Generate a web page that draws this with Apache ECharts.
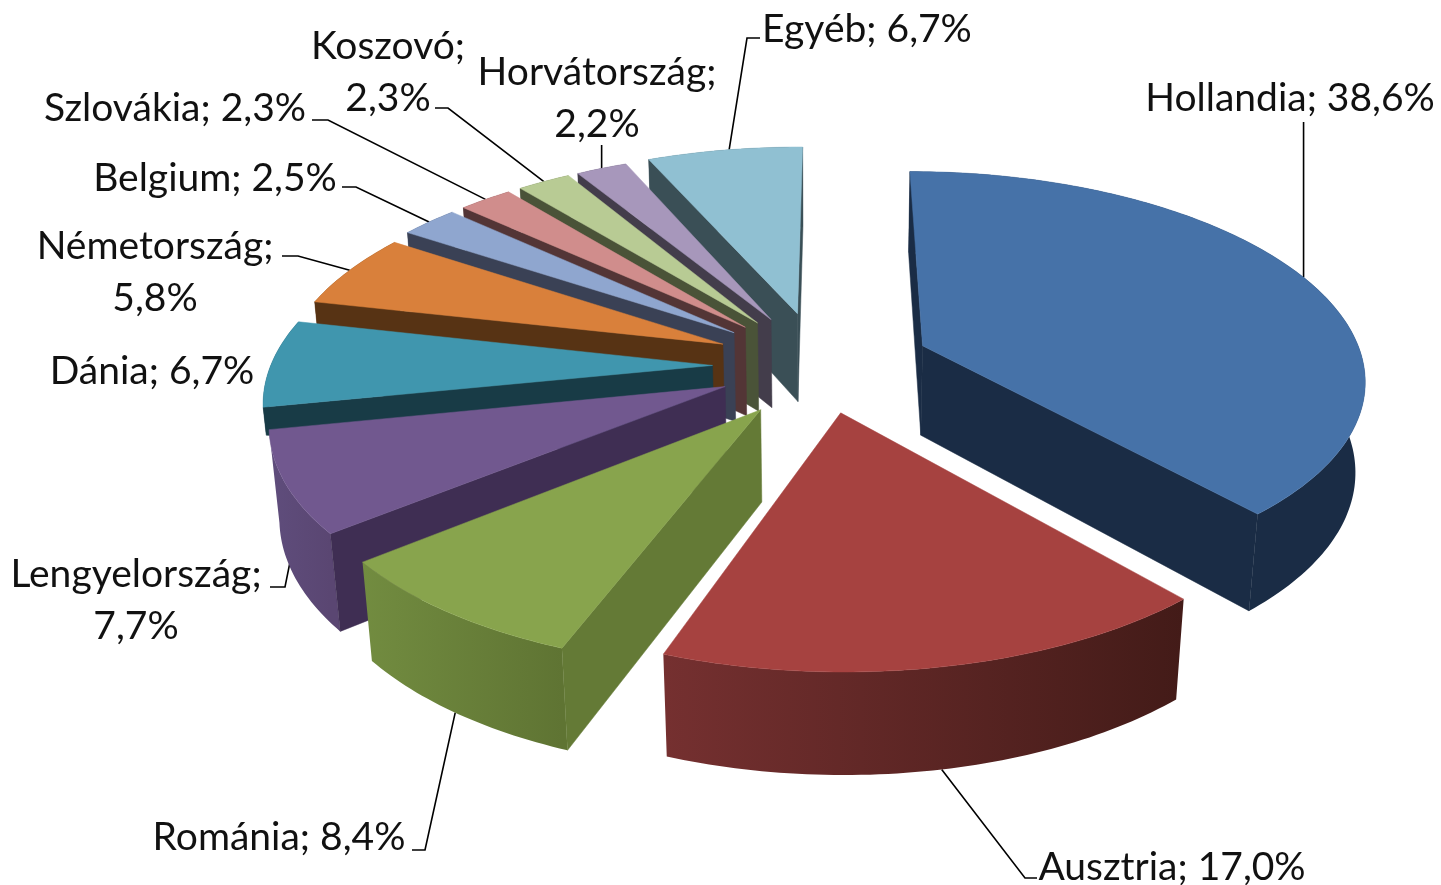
<!DOCTYPE html>
<html><head><meta charset="utf-8">
<style>html,body{margin:0;padding:0;background:#fff}#c{width:1441px;height:885px}</style>
<script src="https://cdn.jsdelivr.net/npm/echarts@6/dist/echarts.min.js"></script>
</head><body><div id="c"></div>
<script>
const categories = ['Hollandia','Ausztria','Románia','Lengyelország','Dánia','Németország','Belgium','Szlovákia','Koszovó','Horvátország','Egyéb'];
const values = [38.6,17.0,8.4,7.7,6.7,5.8,2.5,2.3,2.3,2.2,6.7];

// camera
const CX=823, CY=366, R=442, SIN_T=0.465, DIST=6, H=0.235, START=1;
const COS_T=Math.sqrt(1-SIN_T*SIN_T);
const explode=[.24,.25,.23,.25,.25,.25,.25,.25,.25,.25,.27];
// per-slice fine placement: rotation (deg), world dX, dY, rim wall depth
const rot=[-1,-1,0,0,0,0,0,0,0,-.5,-.7];
const nudge=[[.004,.015],[-.008,.025],[-.002,-.02],[.008,.008],[0,0],[0,.01],[-.009,.012],[-.009,.012],[-.009,.012],[-.006,.012],[-.005,0]];
const rimDepth=[1,1,1,1,.3,1,1,1,1,1,1];
const topColor=['#4672a8','#a64240','#88a44d','#71588f','#4096ae','#d9803b','#8fa6cf','#d08d8c','#b8cb94','#a797bb','#90c0d2'];
const sideColor=['#1a2c45','#431b18','#647a36','#3f2e53','#183b46','#573314','#3a4155','#533536','#4a5338','#433d4b','#3a4f56'];
const rimLeft=['#1a2c45','#753030','#728c40','#5f4d7c','#183b46','#573314','#3a4155','#533536','#4a5338','#433d4b','#3a4f56'];
const rimRight=['#1a2c45','#431b18','#5f7433','#5a4672','#183b46','#573314','#3a4155','#533536','#4a5338','#433d4b','#3a4f56'];
// label layout: centre of text block, wrap flag, leader [world z, elbow, end]
const labelPos=[[1290,98,0],[1172,867,0],[279,837,0],[136,600,1],[152,371,0],[155,272,1],[215,178,0],[175,108,0],[388,72,1],[597,98,1],[867,29,0]];
const leaders=[
 {z:0,  via:[1306,122],end:null,vert:1,da:-.5},
 {z:-1, via:[1025,878],end:[1037,878]},
 {z:-1, via:[425,850], end:[412,850]},
 {z:-.7,via:[285,587], end:[270,587]},
 null,
 {z:0,  via:[298,256], end:[282,256]},
 {z:0,  via:[356,187], end:[342,187]},
 {z:0,  via:[328,120], end:[312,120]},
 {z:0,  via:[448,108], end:[435,108]},
 {z:0,  via:[600,145], end:null,vert:1},
 {z:0,  via:[747,38],  end:[760,38],da:.7}
];

const total=values.reduce((a,b)=>a+b,0);
let acc=0;
const spans=values.map((v,i)=>{const a0=START+acc/total*360;acc+=v;return [a0+rot[i],START+acc/total*360+rot[i]];});
const rad=d=>d*Math.PI/180;
function project(X,Y,Z){
  const v=Y*SIN_T+Z*COS_T, w=Y*COS_T-Z*SIN_T, s=DIST/(DIST+w);
  return [CX+R*X*s, CY-R*v*s];
}
function pt(i,a,r,z){
  const m=rad((spans[i][0]+spans[i][1])/2), e=explode[i];
  return project(e*Math.sin(m)+nudge[i][0]+r*Math.sin(rad(a)), e*Math.cos(m)+nudge[i][1]+r*Math.cos(rad(a)), z);
}
function arc(i,z,rev){
  const [a0,a1]=spans[i],n=Math.max(4,Math.ceil(a1-a0)),p=[];
  for(let k=0;k<=n;k++){p.push(pt(i,a0+(a1-a0)*k/n,1,z));}
  return rev?p.reverse():p;
}
const area=p=>{let s=0;for(let k=0;k<p.length;k++){const q=p[(k+1)%p.length];s+=p[k][0]*q[1]-q[0]*p[k][1];}return s/2;};
const depthOrder=values.map((_,i)=>i).sort((a,b)=>Math.cos(rad((spans[b][0]+spans[b][1])/2))-Math.cos(rad((spans[a][0]+spans[a][1])/2)));
const labelText=i=>categories[i]+';'+(labelPos[i][2]?'\n':' ')+values[i].toFixed(1).replace('.',',')+'%';

function renderItem(params,api){
  const i=api.value(0), rank=depthOrder.indexOf(i)+1, z2=rank*10, kids=[];
  const poly=(points,fill,k)=>kids.push({type:'polygon',z2:z2+k,shape:{points},style:{fill,stroke:typeof fill==='string'?fill:null,lineWidth:.5}});
  const [a0,a1]=spans[i];
  // outer wall
  const top=arc(i,0), bot=arc(i,-H*rimDepth[i],true);
  const xs=top.map(p=>p[0]);
  const grad={type:'linear',global:true,x:Math.min(...xs),y:0,x2:Math.max(...xs),y2:0,
    colorStops:[{offset:0,color:rimLeft[i]},{offset:1,color:rimRight[i]}]};
  poly(top.concat(bot),grad,1);
  // radial walls, only those facing the viewer
  for(const a of [a0,a1]){
    const wall=[pt(i,a,0,0),pt(i,a,1,0),pt(i,a,1,-H*rimDepth[i]),pt(i,a,0,-H)];
    const sign=a===a0?-1:1;
    if(area(wall)*sign>0) poly(wall,sideColor[i],2);
  }
  // top
  poly([pt(i,a0,0,0)].concat(top),topColor[i],3);
  // leader
  const L=leaders[i];
  if(L){
    const start=pt(i,(a0+a1)/2+(L.da||0),1,L.z*H);
    const pts=[start,L.vert?[start[0],L.via[1]]:L.via]; if(L.end) pts.push(L.end);
    kids.push({type:'polyline',z2:1,shape:{points:pts},style:{stroke:'#000',lineWidth:1.6,fill:null}});
  }
  // label
  kids.push({type:'text',z2:500,x:labelPos[i][0],y:labelPos[i][1],style:{text:labelText(i),font:'39px Lato, Carlito, sans-serif',fill:'#111',align:'center',verticalAlign:'middle',lineHeight:52}});
  return {type:'group',children:kids};
}
const chart=echarts.init(document.getElementById('c'));
chart.setOption({animation:false,backgroundColor:'#fff',series:[{type:'custom',coordinateSystem:'none',silent:true,renderItem,
  data:values.map((v,i)=>[i,v])}]});
</script></body></html>
